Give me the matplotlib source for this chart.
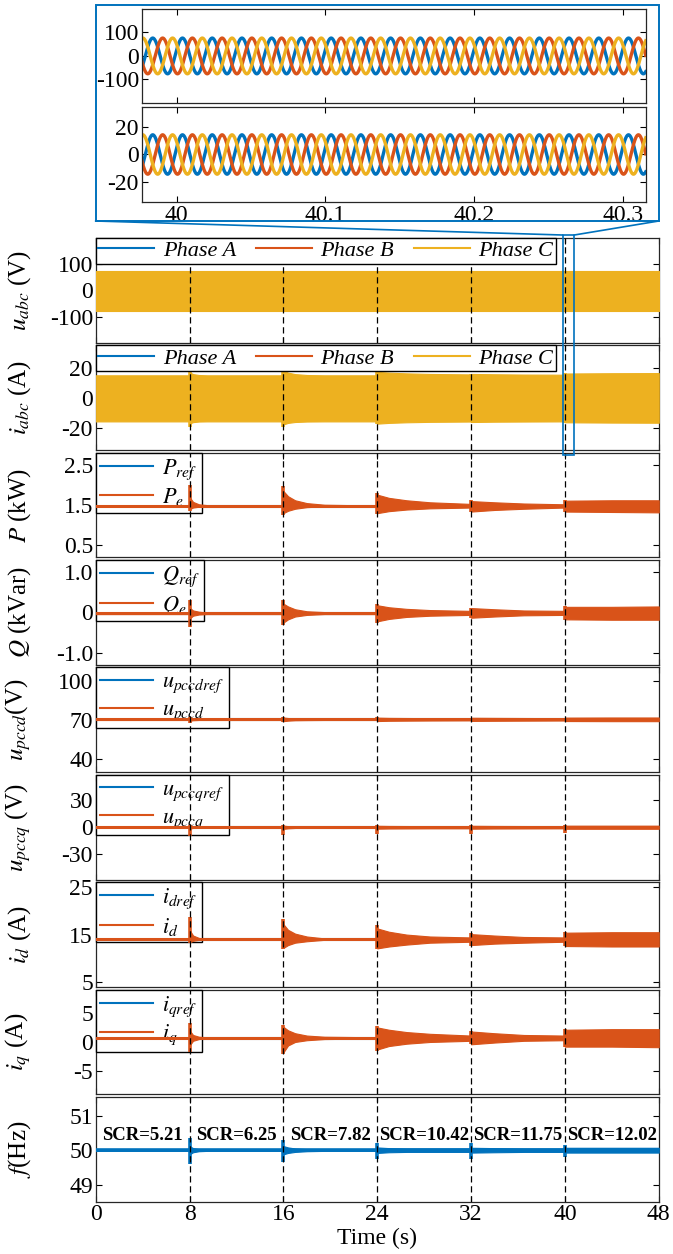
import numpy as np
import matplotlib
matplotlib.use('Agg')
import matplotlib.pyplot as plt
from matplotlib.patches import Rectangle
from matplotlib.lines import Line2D

plt.rcParams['font.family'] = ['Liberation Serif', 'DejaVu Serif']
plt.rcParams['mathtext.fontset'] = 'stix'
plt.rcParams['axes.unicode_minus'] = False

C_A = '#0072BD'
C_B = '#D95319'
C_C = '#EDB120'

# ---- data ----
events = [8, 16, 24, 32, 40]
scr_labels = ['SCR=5.21', 'SCR=6.25', 'SCR=7.82', 'SCR=10.42', 'SCR=11.75', 'SCR=12.02']
scr_x = [4, 12, 20, 28, 36, 44]

# shared time breakpoints for the oscillation envelopes
env_t = [0, 7.99, 8.0, 8.3, 8.8, 9.5, 15.99, 16.0, 16.4, 17.0, 18.0, 19.5,
         23.99, 24.0, 25.0, 26.5, 28.5, 31.99, 32.0, 34.0, 36.5, 39.99,
         40.0, 44.0, 48.0]

# u_abc band
uabc_hi = [75] * 25
uabc_lo = [-79] * 25

# i_abc band
iabc_hi = [15.0, 15.0, 17.0, 15.8, 15.2, 15.0, 15.0, 18.0, 16.8, 15.8, 15.2, 15.0,
           15.0, 17.3, 16.8, 16.3, 15.9, 15.6, 15.9, 15.7, 15.5, 15.4, 16.2, 16.4, 16.5]
iabc_lo = [-15.8, -15.8, -17.2, -16.3, -15.9, -15.8, -15.8, -17.8, -16.8, -16.2, -15.9, -15.8,
           -15.8, -17.3, -16.8, -16.4, -16.1, -15.9, -16.2, -16.0, -15.9, -15.8, -16.4, -16.6, -16.7]
iabc_spk_hi = [20.0, 19.8, 18.0, 16.2, 16.5]
iabc_spk_lo = [-19.5, -19.3, -17.5, -16.5, -16.8]

# P (kW)
p_ref = 1.48
p_hi = [1.49, 1.49, 1.70, 1.58, 1.52, 1.50, 1.49, 1.85, 1.72, 1.62, 1.55, 1.51,
        1.49, 1.76, 1.68, 1.62, 1.57, 1.53, 1.60, 1.57, 1.54, 1.52, 1.61, 1.62, 1.62]
p_lo = [1.47, 1.47, 1.40, 1.44, 1.46, 1.47, 1.47, 1.30, 1.36, 1.41, 1.45, 1.47,
        1.47, 1.30, 1.35, 1.39, 1.42, 1.44, 1.34, 1.38, 1.41, 1.44, 1.34, 1.33, 1.32]
p_spk_hi = [2.00, 1.97, 1.80, 1.62, 1.62]
p_spk_lo = [1.36, 1.25, 1.28, 1.33, 1.34]

# Q (kVar)
q_ref = -0.02
q_hi = [0.0, 0.0, 0.12, 0.05, 0.02, 0.0, 0.0, 0.22, 0.15, 0.08, 0.03, 0.01,
        0.0, 0.18, 0.13, 0.09, 0.06, 0.04, 0.11, 0.08, 0.05, 0.04, 0.14, 0.14, 0.15]
q_lo = [-0.04, -0.04, -0.15, -0.08, -0.05, -0.04, -0.04, -0.25, -0.17, -0.10, -0.06, -0.04,
        -0.04, -0.22, -0.16, -0.11, -0.08, -0.06, -0.13, -0.10, -0.07, -0.06, -0.17, -0.18, -0.18]
q_spk_hi = [0.30, 0.30, 0.22, 0.12, 0.17]
q_spk_lo = [-0.35, -0.30, -0.27, -0.14, -0.18]

# u_pccd (V)
ud_ref = 70.4
ud_hi = [70.9, 70.9, 71.4, 71.1, 70.9, 70.9, 70.9, 71.8, 71.4, 71.1, 71.0, 70.9,
         70.9, 71.7, 71.5, 71.4, 71.3, 71.2, 71.6, 71.5, 71.4, 71.3, 71.7, 71.8, 71.8]
ud_lo = [69.9, 69.9, 69.3, 69.7, 69.9, 69.9, 69.9, 69.0, 69.4, 69.7, 69.8, 69.9,
         69.9, 69.1, 69.3, 69.4, 69.5, 69.6, 69.2, 69.3, 69.4, 69.5, 69.1, 69.0, 69.0]
ud_spk_hi = [72.5, 72.5, 72.0, 71.8, 71.8]
ud_spk_lo = [67.8, 68.5, 68.8, 69.2, 69.2]

# u_pccq (V)
uq_ref = 0.0
uq_hi = [0.4, 0.4, 1.5, 0.8, 0.5, 0.4, 0.4, 1.8, 1.2, 0.8, 0.5, 0.4,
         0.4, 1.6, 1.4, 1.3, 1.2, 1.2, 1.6, 1.4, 1.3, 1.2, 1.7, 1.7, 1.7]
uq_lo = [-0.4, -0.4, -1.5, -0.8, -0.5, -0.4, -0.4, -1.8, -1.2, -0.8, -0.5, -0.4,
         -0.4, -1.6, -1.4, -1.3, -1.2, -1.2, -1.6, -1.4, -1.3, -1.2, -1.7, -1.7, -1.7]
uq_spk_hi = [3.0, 2.5, 2.0, 2.0, 2.0]
uq_spk_lo = [-10.0, -8.5, -7.5, -7.0, -6.0]

# i_d (A)
id_ref = 14.0
id_hi = [14.1, 14.1, 16.0, 14.8, 14.3, 14.1, 14.1, 17.2, 16.0, 15.2, 14.6, 14.2,
         14.1, 16.3, 15.6, 15.0, 14.6, 14.4, 15.1, 14.8, 14.5, 14.4, 15.4, 15.5, 15.5]
id_lo = [13.9, 13.9, 13.4, 13.7, 13.9, 13.9, 13.9, 12.2, 12.8, 13.3, 13.6, 13.9,
         13.9, 12.1, 12.5, 12.9, 13.3, 13.5, 12.8, 13.1, 13.3, 13.5, 12.6, 12.5, 12.5]
id_spk_hi = [18.6, 18.3, 17.0, 15.3, 15.5]
id_spk_lo = [13.2, 11.9, 11.9, 12.6, 12.5]

# i_q (A)
iq_ref = 0.7
iq_hi = [0.8, 0.8, 2.0, 1.2, 0.9, 0.8, 0.8, 2.6, 2.0, 1.5, 1.1, 0.9,
         0.8, 2.5, 2.1, 1.7, 1.4, 1.1, 1.8, 1.5, 1.2, 1.1, 2.1, 2.2, 2.2]
iq_lo = [0.6, 0.6, -0.6, 0.2, 0.5, 0.6, 0.6, -1.8, -0.6, 0.0, 0.3, 0.5,
         0.6, -1.3, -0.7, -0.3, 0.0, 0.2, -0.4, -0.1, 0.2, 0.3, -0.8, -0.8, -0.9]
iq_spk_hi = [3.3, 3.0, 2.7, 1.9, 2.2]
iq_spk_lo = [-1.8, -2.1, -1.5, -0.4, -0.8]

# f (Hz)
f_ref = 50.0
f_hi = [50.02, 50.02, 50.12, 50.06, 50.03, 50.02, 50.02, 50.12, 50.08, 50.05, 50.03, 50.02,
        50.02, 50.08, 50.06, 50.05, 50.05, 50.05, 50.07, 50.06, 50.05, 50.05, 50.07, 50.07, 50.07]
f_lo = [49.98, 49.98, 49.88, 49.94, 49.97, 49.98, 49.98, 49.88, 49.92, 49.95, 49.97, 49.98,
        49.98, 49.92, 49.94, 49.95, 49.95, 49.95, 49.93, 49.94, 49.95, 49.95, 49.93, 49.93, 49.93]
f_spk_hi = [50.35, 50.30, 50.20, 50.20, 50.15]
f_spk_lo = [49.60, 49.65, 49.75, 49.75, 49.80]

# zoomed window (three-phase waveforms around t = 40 s)
zoom_xlim = (39.9765, 40.3155)
zoom_box = (39.8, 40.8)
grid_freq = 50.0
phase_shift_deg = 19.0
u_amp = 76.0
i_amp = 14.5

# ---- figure ----
fig = plt.figure(figsize=(6.73, 12.54), dpi=100)
gs = fig.add_gridspec(9, 1, left=0.1422, right=0.9788, top=0.8102, bottom=0.0417, hspace=0.025)
axes = [fig.add_subplot(gs[i]) for i in range(9)]

ylims = [(-200, 200), (-35, 35), (0.2, 2.8), (-1.3, 1.3), (30, 110), (-58, 58), (4, 26), (-9, 9), (48.5, 51.55)]
yticks = [[-100, 0, 100], [-20, 0, 20], [0.5, 1.5, 2.5], [-1, 0, 1], [40, 70, 100],
          [-30, 0, 30], [5, 15, 25], [-5, 0, 5], [49, 50, 51]]
yticklabels = [None, None, ['0.5', '1.5', '2.5'], ['-1.0', '0', '1.0'], None, None, None, None, None]
ylabels = ['$u_{abc}$ (V)', '$i_{abc}$ (A)', '$P$ (kW)', '$Q$ (kVar)', '$u_{pccd}$(V)',
           '$u_{pccq}$ (V)', '$i_d$ (A)', '$i_q$ (A)', '$f$(Hz)']

t_env = np.array(env_t)
TICK_FS = 17


def band(ax, hi, lo, spk_hi, spk_lo, color, base=None, lw=2.2):
    if base is not None:
        ax.plot([0, 48], [base, base], color=color, lw=lw, zorder=3)
    ax.fill_between(t_env, lo, hi, color=color, lw=0.8, edgecolor=color, zorder=3)
    if spk_hi is not None:
        ax.vlines(events, spk_lo, spk_hi, color=color, lw=2.6, zorder=3)


# u_abc / i_abc
h3 = [Line2D([], [], color=c, lw=1.5) for c in (C_A, C_B, C_C)]
leg_prop = {'family': 'Liberation Serif', 'style': 'italic', 'size': 16}
band(axes[0], uabc_hi, uabc_lo, None, None, C_C)
band(axes[1], iabc_hi, iabc_lo, iabc_spk_hi, iabc_spk_lo, C_C)
for ax in axes[:2]:
    lg = ax.legend(h3, ['Phase A', 'Phase B', 'Phase C'], ncol=3, loc='upper left', borderaxespad=0,
                   prop=leg_prop, fancybox=False, edgecolor='k', framealpha=1, handlelength=2.5,
                   columnspacing=0.9, handletextpad=0.4, borderpad=0.12)
    lg.set_zorder(6)

# dq panels: reference (blue) under measured (orange)
dq = [
    (axes[2], p_ref, p_hi, p_lo, p_spk_hi, p_spk_lo, ['$P_{ref}$', '$P_e$']),
    (axes[3], q_ref, q_hi, q_lo, q_spk_hi, q_spk_lo, ['$Q_{ref}$', '$Q_e$']),
    (axes[4], ud_ref, ud_hi, ud_lo, ud_spk_hi, ud_spk_lo, ['$u_{pccdref}$', '$u_{pccd}$']),
    (axes[5], uq_ref, uq_hi, uq_lo, uq_spk_hi, uq_spk_lo, ['$u_{pccqref}$', '$u_{pccq}$']),
    (axes[6], id_ref, id_hi, id_lo, id_spk_hi, id_spk_lo, ['$i_{dref}$', '$i_d$']),
    (axes[7], iq_ref, iq_hi, iq_lo, iq_spk_hi, iq_spk_lo, ['$i_{qref}$', '$i_q$']),
]
for ax, ref, hi, lo, shi, slo, labs in dq:
    ax.plot([0, 48], [ref, ref], color=C_A, lw=2.2, zorder=2)
    band(ax, hi, lo, shi, slo, C_B, base=ref)
    lg = ax.legend([Line2D([], [], color=C_A, lw=1.5), Line2D([], [], color=C_B, lw=1.5)], labs,
                   loc='upper left', borderaxespad=0, prop={'size': 16}, fancybox=False,
                   edgecolor='k', framealpha=1, handlelength=2.4, labelspacing=0.2,
                   borderpad=0.2, handletextpad=0.4)
    lg.set_zorder(2.5)

# f
ax = axes[8]
band(ax, f_hi, f_lo, f_spk_hi, f_spk_lo, C_A, base=f_ref, lw=2.6)
for x, s in zip(scr_x, scr_labels):
    ax.text(x, 50.18, s, ha='center', va='bottom', fontsize=13.5, fontweight='bold')

for i, ax in enumerate(axes):
    ax.set_xlim(0, 48)
    ax.set_ylim(*ylims[i])
    ax.set_yticks(yticks[i])
    if yticklabels[i] is not None:
        ax.set_yticklabels(yticklabels[i])
    ax.set_xticks([0, 8, 16, 24, 32, 40, 48])
    ax.tick_params(direction='in', top=True, right=True, length=4, labelsize=TICK_FS, width=0.8, pad=2)
    if i < 8:
        ax.tick_params(labelbottom=False)
    for ev in events:
        ax.axvline(ev, color='k', lw=0.9, ls=(0, (5, 3)), zorder=5)
    for sp in ax.spines.values():
        sp.set_color('#262626')
        sp.set_linewidth(0.9)
    ax.set_ylabel(ylabels[i], fontsize=18)
    ax.yaxis.set_label_coords(-0.112, 0.5)

axes[8].set_xlabel('Time (s)', fontsize=17, labelpad=2)

# ---- zoom inset ----
ins_u = fig.add_axes([0.2105, 0.9179, 0.7489, 0.075])
ins_i = fig.add_axes([0.2105, 0.8389, 0.7489, 0.0758])
ts = np.linspace(zoom_xlim[0], zoom_xlim[1], 3000)
ang = 2 * np.pi * grid_freq * ts + np.deg2rad(phase_shift_deg)
for ins, amp in ((ins_u, u_amp), (ins_i, i_amp)):
    for c, sh in ((C_A, 0), (C_B, -120), (C_C, 120)):
        ins.plot(ts, amp * np.sin(ang + np.deg2rad(sh)), color=c, lw=2.4)
    ins.set_xlim(*zoom_xlim)
    ins.set_xticks([40, 40.1, 40.2, 40.3])
    ins.tick_params(direction='in', top=True, right=True, length=4, labelsize=TICK_FS, width=0.8, pad=2)
    for sp in ins.spines.values():
        sp.set_color('#262626')
        sp.set_linewidth(0.9)
ins_u.set_ylim(-200, 200)
ins_u.set_yticks([-100, 0, 100])
ins_u.tick_params(labelbottom=False)
ins_i.set_ylim(-35, 35)
ins_i.set_yticks([-20, 0, 20])
ins_i.set_xticklabels(['40', '40.1', '40.2', '40.3'])

# blue frame round the inset
fr_x0, fr_x1 = 0.1422, 0.9788
fr_y0, fr_y1 = 1 - 221 / 1254, 1 - 5 / 1254
fig.add_artist(Rectangle((fr_x0, fr_y0), fr_x1 - fr_x0, fr_y1 - fr_y0, transform=fig.transFigure,
                         fill=False, edgecolor=C_A, lw=1.4))

# small box marking the zoomed window on the main axes
inv = fig.transFigure.inverted()
bx0 = inv.transform(axes[0].transData.transform((zoom_box[0], 0)))[0]
bx1 = inv.transform(axes[0].transData.transform((zoom_box[1], 0)))[0]
by1 = axes[0].get_position().y1 + 3 / 1254
by0 = axes[1].get_position().y0 - 5 / 1254
fig.add_artist(Rectangle((bx0, by0), bx1 - bx0, by1 - by0, transform=fig.transFigure,
                         fill=False, edgecolor=C_A, lw=1.2, zorder=10))
fig.add_artist(Line2D([fr_x0, bx0], [fr_y0, by1], transform=fig.transFigure, color=C_A, lw=1.2))
fig.add_artist(Line2D([fr_x1, bx1], [fr_y0, by1], transform=fig.transFigure, color=C_A, lw=1.2))

fig.savefig('out.png', dpi=100)
